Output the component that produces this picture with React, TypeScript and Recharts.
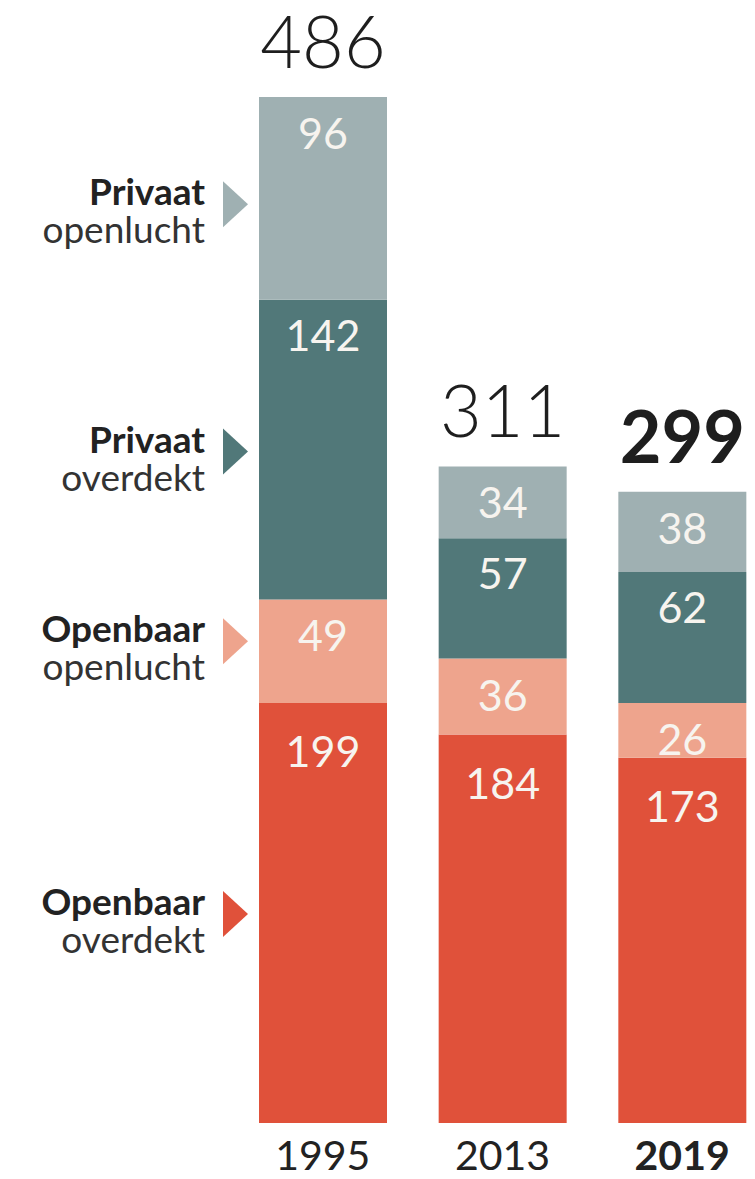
import { BarChart, Bar, XAxis, YAxis, LabelList } from "recharts";

// Stacked bars: number of swimming pools by type, 1995 / 2013 / 2019.

const years = ["1995", "2013", "2019"];
const openbaarOverdekt = [199, 184, 173];
const openbaarOpenlucht = [49, 36, 26];
const privaatOverdekt = [142, 57, 62];
const privaatOpenlucht = [96, 34, 38];
const totals = [486, 311, 299];

const FONT = "Lato, 'Open Sans', sans-serif";

// bottom to top
const SERIES = [
  { key: "openbaarOverdekt", bold: "Openbaar", sub: "overdekt", color: "#e0513a", valueDy: 64, legendDy: 1 },
  { key: "openbaarOpenlucht", bold: "Openbaar", sub: "openlucht", color: "#eea48d", valueDy: 52, legendDy: -10 },
  { key: "privaatOverdekt", bold: "Privaat", sub: "overdekt", color: "#517879", valueDy: 51, legendDy: 2 },
  { key: "privaatOpenlucht", bold: "Privaat", sub: "openlucht", color: "#9fb0b2", valueDy: 52, legendDy: 6 },
];

const data = years.map((year, i) => ({
  year,
  openbaarOverdekt: openbaarOverdekt[i],
  openbaarOpenlucht: openbaarOpenlucht[i],
  privaatOverdekt: privaatOverdekt[i],
  privaatOpenlucht: privaatOpenlucht[i],
  total: totals[i],
}));

const isLast = (i: number) => i === years.length - 1;

function YearTick({ x, y, payload, index }: any) {
  return (
    <text x={x} y={y + 47} textAnchor="middle" fontFamily={FONT} fontSize={41}
      fontWeight={isLast(index) ? 700 : 400} fill="#222">
      {payload.value}
    </text>
  );
}

export default function App() {
  return (
    <div style={{ position: "absolute", left: 0, top: 0, width: 755, height: 1179, overflow: "hidden", background: "#fff" }}>
      <BarChart width={772} height={1179} data={data}
        margin={{ top: 97, right: 0, bottom: 0, left: 233 }}>
        <YAxis hide domain={[0, 486]} />
        <XAxis dataKey="year" axisLine={false} tickLine={false} tickSize={0} tickMargin={0}
          height={56} interval={0} tick={<YearTick />} />
        {SERIES.map((s, si) => (
          <Bar key={s.key} dataKey={s.key} stackId="a" fill={s.color} barSize={128} isAnimationActive={false}>
            <LabelList dataKey={s.key} content={(p: any) => (
              <text x={p.x + p.width / 2} y={p.y + s.valueDy} textAnchor="middle"
                fontFamily={FONT} fontSize={43} fill="#f7f4ef">{p.value}</text>
            )} />
            <LabelList dataKey={s.key} content={(p: any) => {
              if (p.index !== 0) return null;
              const cy = p.y + p.height / 2 + s.legendDy;
              const tx = p.x - 11;
              return (
                <g>
                  <polygon points={`${tx - 25},${cy - 23} ${tx},${cy} ${tx - 25},${cy + 23}`} fill={s.color} />
                  <text x={p.x - 54} y={cy + 1} textAnchor="end" fontFamily={FONT} fontSize={37} fontWeight={700} fill="#222">{s.bold}</text>
                  <text x={p.x - 54} y={cy + 39} textAnchor="end" fontFamily={FONT} fontSize={37} fill="#333">{s.sub}</text>
                </g>
              );
            }} />
            {si === SERIES.length - 1 && (
              <LabelList dataKey="total" content={(p: any) => (
                <text x={p.x + p.width / 2} y={p.y - 29} textAnchor="middle" fontFamily={FONT}
                  fontSize={72} fontWeight={isLast(p.index) ? 700 : 300} fill="#1e1e1e">{p.value}</text>
              )} />
            )}
          </Bar>
        ))}
      </BarChart>
    </div>
  );
}
